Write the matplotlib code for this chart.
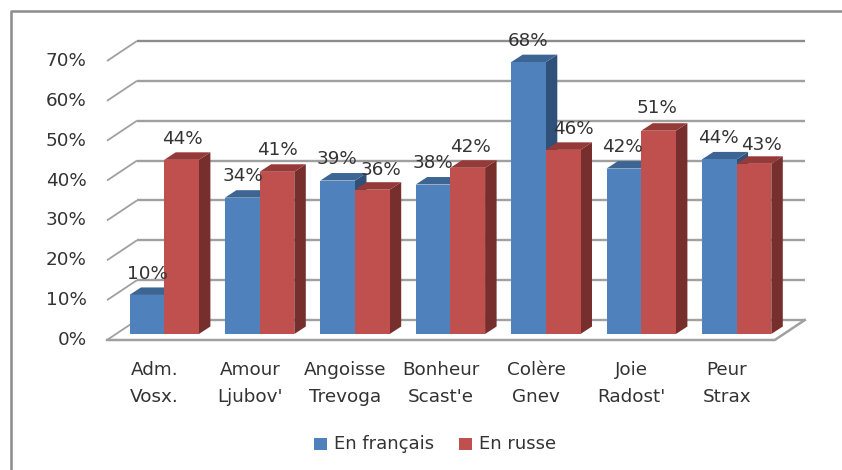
import matplotlib
matplotlib.use('Agg')
import matplotlib.pyplot as plt
from matplotlib.patches import Polygon, Rectangle

categories = ["Adm.\nVosx.", "Amour\nLjubov'", "Angoisse\nTrevoga", "Bonheur\nScast'e",
              "Colère\nGnev", "Joie\nRadost'", "Peur\nStrax"]
francais = [10, 34, 39, 38, 68, 42, 44]
russe = [44, 41, 36, 42, 46, 51, 43]
# heights as drawn (the labels are rounded)
francais_h = [9.8, 34.2, 38.5, 37.5, 68.2, 41.5, 43.8]
russe_h = [43.7, 40.7, 36.2, 41.7, 46.2, 51, 42.7]
y_ticks = [0, 10, 20, 30, 40, 50, 60, 70]

W, H = 842, 470
PX_X = 95.4   # pixels per category
PX_Y = 3.986  # pixels per percent
X0, Y0 = 107, 340  # pixel position of the front floor origin

# the original moves some data labels sideways/down so they don't collide (pixels)
nudge_fr_x = [2, 2, 0, 1, 1, 0, 0]
nudge_ru_x = [0, 0, 8, 2, 9, -3, 7]
nudge_ru_y = [0, 0, -2, 0, 0, 1, -2]

fig = plt.figure(figsize=(W / 100, H / 100), dpi=100)
ax = fig.add_axes([0, 0, 1, 1])
ax.set_xlim(-X0 / PX_X, (W - X0) / PX_X)
ax.set_ylim(-(H - Y0) / PX_Y, Y0 / PX_Y)
ax.axis('off')

plt.rcParams['font.family'] = 'DejaVu Sans'
text_col = '#333333'
grid_col = '#a0a0a0'
FS = 13.2

# depth of the wall and of the bars, in data units
wall_dx, wall_dy = 30 / PX_X, 20 / PX_Y
bar_dx, bar_dy = 11.5 / PX_X, 7.5 / PX_Y
shift_x, shift_y = 9.5 / PX_X, 6 / PX_Y
bar_w = 34.7 / PX_X


def draw_bar(x, h, front, top, side, z):
    b = shift_y
    t = shift_y + h
    x = x + shift_x
    ax.add_patch(Polygon([(x + bar_w, b), (x + bar_w + bar_dx, b + bar_dy),
                          (x + bar_w + bar_dx, t + bar_dy), (x + bar_w, t)],
                         fc=side, ec='none', zorder=z))
    ax.add_patch(Polygon([(x, t), (x + bar_dx, t + bar_dy),
                          (x + bar_w + bar_dx, t + bar_dy), (x + bar_w, t)],
                         fc=top, ec='none', zorder=z))
    ax.add_patch(Rectangle((x, b), bar_w, h, fc=front, ec='none', zorder=z))


# gridlines on the back wall and the side wall
for t in y_ticks:
    col = '#8c8c8c' if t == 70 else grid_col
    ax.plot([0, wall_dx], [t, t + wall_dy], color=grid_col, lw=1.3,
            solid_capstyle='butt', zorder=1)
    ax.plot([wall_dx, 7 + wall_dx], [t + wall_dy, t + wall_dy],
            color=col, lw=1.7, solid_capstyle='butt', zorder=1)
    ax.text(-0.215, t, f'{t}%', ha='right', va='center', fontsize=FS, color=text_col)

# floor
ax.plot([0, 7, 7 + wall_dx], [0, 0, wall_dy], color=grid_col, lw=1.8, zorder=1)

for i in range(len(categories)):
    left = i + 0.5 - bar_w
    draw_bar(left, francais_h[i], '#4f81bd', '#3d6594', '#2f5078', 2 + i * 2)
    draw_bar(left + bar_w, russe_h[i], '#c0504d', '#953a38', '#772f2d', 3 + i * 2)
    ax.text(i + 0.5, -5.2, categories[i], ha='center', va='top', fontsize=FS,
            color=text_col, linespacing=1.65)
    ax.text(left + shift_x + bar_w / 2 - 0.01 + nudge_fr_x[i] / PX_X,
            francais_h[i] + shift_y + bar_dy + 1.2,
            f'{francais[i]}%', ha='center', va='bottom', fontsize=FS, color=text_col, zorder=30)
    ax.text(left + bar_w + shift_x + bar_w / 2 + 0.01 + nudge_ru_x[i] / PX_X,
            russe_h[i] + shift_y + bar_dy + 1.2 + nudge_ru_y[i] / PX_Y,
            f'{russe[i]}%', ha='center', va='bottom', fontsize=FS, color=text_col, zorder=30)

# outer frame: only the left and top edges show
fig.add_artist(plt.Line2D([10.5 / W, 10.5 / W, 1], [0, 1 - 10.5 / H, 1 - 10.5 / H],
                          color='#8c8c8c', lw=1.8))

# legend
legend_y = 444
for px, col, lab in [(314, '#4f81bd', 'En français'), (459, '#c0504d', 'En russe')]:
    fig.add_artist(Rectangle((px / W, 1 - (legend_y + 6) / H), 13 / W, 12 / H,
                             transform=fig.transFigure, fc=col, ec='none'))
    fig.text((px + 20) / W, 1 - legend_y / H, lab, ha='left', va='center',
             fontsize=13, color=text_col)

fig.savefig('out.png', dpi=100)
